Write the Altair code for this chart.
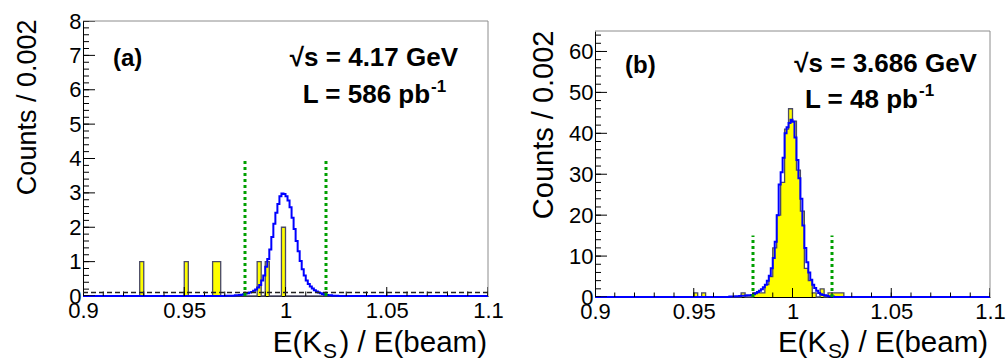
import altair as alt
import pandas as pd

FONT = "Liberation Sans"
YELLOW = "#ffff00"
OUTLINE = "#4a4a66"
BLUE = "#0000ff"
GREEN = "#00a000"
FRAME = "#8c8c8c"

X_DOMAIN = [0.9, 1.1]
BIN_W = 0.002
N_BINS = 100
CURVE_W = 0.001

# ---------------- panel (a): sqrt(s) = 4.17 GeV ----------------
a_data_lo = [0.928, 0.950, 0.964, 0.966, 0.986, 0.990, 0.998]
a_data_n = [1, 1, 1, 1, 1, 1, 2]
a_curve_lo = [0.970, 0.971, 0.972, 0.973, 0.974, 0.975, 0.976, 0.977, 0.978, 0.979,
              0.980, 0.981, 0.982, 0.983, 0.984, 0.985, 0.986, 0.987, 0.988, 0.989,
              0.990, 0.991, 0.992, 0.993, 0.994, 0.995, 0.996, 0.997, 0.998, 0.999,
              1.000, 1.001, 1.002, 1.003, 1.004, 1.005, 1.006, 1.007, 1.008, 1.009,
              1.010, 1.011, 1.012, 1.013, 1.014, 1.015, 1.016, 1.017, 1.018, 1.019,
              1.020, 1.021, 1.022, 1.023, 1.024, 1.025]
a_curve_v = [0.01, 0.01, 0.01, 0.01, 0.01, 0.02, 0.02, 0.03, 0.04, 0.05,
             0.07, 0.08, 0.10, 0.12, 0.15, 0.19, 0.25, 0.32, 0.45, 0.60,
             0.85, 1.08, 1.35, 1.72, 2.10, 2.42, 2.68, 2.90, 2.98, 2.97,
             2.90, 2.78, 2.58, 2.28, 1.95, 1.60, 1.30, 1.02, 0.78, 0.60,
             0.45, 0.35, 0.28, 0.22, 0.17, 0.13, 0.10, 0.08, 0.06, 0.04,
             0.03, 0.02, 0.02, 0.01, 0.01, 0.01]
a_cuts = [0.98, 1.02]
a_cut_top = 4
a_bkg_level = 0.1
a_y_max = 8
a_y_labels = [0, 1, 2, 3, 4, 5, 6, 7, 8]
a_y_minor = [round(0.2 * i, 2) for i in range(41)]

# ---------------- panel (b): sqrt(s) = 3.686 GeV ----------------
b_data_lo = [0.950, 0.954, 0.974, 0.980, 0.982, 0.984, 0.986, 0.988, 0.990, 0.992,
             0.994, 0.996, 0.998, 1.000, 1.002, 1.004, 1.006, 1.008, 1.010, 1.014,
             1.018, 1.020, 1.022, 1.024]
b_data_n = [1, 1, 1, 1, 1, 1, 3, 5, 12, 20,
            28, 41, 46, 43, 31, 21, 7, 4, 1, 2,
            1, 1, 1, 1]
b_curve_lo = [0.968, 0.969, 0.970, 0.971, 0.972, 0.973, 0.974, 0.975, 0.976, 0.977,
              0.978, 0.979, 0.980, 0.981, 0.982, 0.983, 0.984, 0.985, 0.986, 0.987,
              0.988, 0.989, 0.990, 0.991, 0.992, 0.993, 0.994, 0.995, 0.996, 0.997,
              0.998, 0.999, 1.000, 1.001, 1.002, 1.003, 1.004, 1.005, 1.006, 1.007,
              1.008, 1.009, 1.010, 1.011, 1.012, 1.013, 1.014, 1.015, 1.016, 1.017,
              1.018, 1.019, 1.020]
b_curve_v = [0.1, 0.1, 0.15, 0.2, 0.2, 0.25, 0.3, 0.3, 0.35, 0.4,
             0.45, 0.5, 0.7, 0.9, 1.2, 1.5, 1.9, 2.4, 3.0, 4.0,
             5.2, 7.0, 9.5, 13.5, 20.0, 27.5, 30.5, 34.0, 40.0, 41.5,
             42.5, 43.3, 42.8, 39.0, 33.5, 29.0, 24.0, 17.5, 12.0, 8.5,
             6.0, 4.2, 3.0, 2.2, 1.5, 1.0, 0.7, 0.5, 0.4, 0.3,
             0.2, 0.1, 0.1]
b_cuts = [0.98, 1.02]
b_cut_top = 15
b_y_max = 65
b_y_labels = [0, 10, 20, 30, 40, 50, 60]
b_y_minor = [2 * i for i in range(33)]

x_labels = [0.9, 0.95, 1.0, 1.05, 1.1]
x_minor = [round(0.9 + 0.01 * i, 3) for i in range(21)]


def hist_table(lo_list, n_list):
    counts = [0] * N_BINS
    for lo, n in zip(lo_list, n_list):
        counts[int(round((lo - X_DOMAIN[0]) / BIN_W))] = n
    edges = [round(X_DOMAIN[0] + i * BIN_W, 4) for i in range(N_BINS)] + [X_DOMAIN[1]]
    return pd.DataFrame({"x": edges, "n": counts + [counts[-1]]})


def curve_table(lo, v):
    xs = [X_DOMAIN[0]] + lo + [round(lo[-1] + CURVE_W, 4), X_DOMAIN[1]]
    ys = [0] + v + [0, 0]
    return pd.DataFrame({"x": xs, "v": ys})


def label(text, x, y, size, bold=False, align="left"):
    return alt.Chart().mark_text(
        text=text, font=FONT, fontSize=size, fontWeight="bold" if bold else "normal",
        align=align, baseline="alphabetic", color="black"
    ).encode(x=alt.datum(x), y=alt.datum(y))


def panel(hist, curve, y_max, width, height, y_range, cuts, cut_top, y_labels, y_minor,
          ytitle_x, ytitle_y, ytitle_size, texts, bkg=None):
    xs = alt.Scale(domain=X_DOMAIN, nice=False, zero=False)
    ykw = dict(domain=[0, y_max], nice=False, zero=True)
    if y_range is not None:
        ykw["range"] = y_range
    ys = alt.Scale(**ykw)
    xax = alt.Axis(values=x_labels, labelExpr="format(datum.value, '~g')", title=None,
                   labelPadding=4, labelFlush=False, labelOverlap=False)
    yax = alt.Axis(values=y_labels, labelExpr="format(datum.value, 'd')", labelPadding=2,
                   labelOverlap=False, labelSeparation=0, tickCount=len(y_labels),
                   title="Counts / 0.002", titleX=ytitle_x, titleY=ytitle_y, titleAngle=270,
                   titleAlign="right", titleBaseline="alphabetic", titleFontSize=ytitle_size)

    def X(f):
        return alt.X(f, scale=xs, axis=xax)

    def Y(f):
        return alt.Y(f, scale=ys, axis=yax)

    area = alt.Chart(hist).mark_area(interpolate="step-after", color=YELLOW, opacity=1).encode(
        x=X("x:Q"), y=Y("n:Q"))
    outline = alt.Chart(hist).mark_line(interpolate="step-after", color=OUTLINE, strokeWidth=1.3).encode(
        x=X("x:Q"), y=Y("n:Q"))
    blue = alt.Chart(curve).mark_line(interpolate="step-after", color=BLUE, strokeWidth=2).encode(
        x=X("x:Q"), y=Y("v:Q"))
    cut_df = pd.DataFrame({"c": cuts})
    cutlines = alt.Chart(cut_df).mark_rule(color=GREEN, strokeWidth=3, strokeDash=[3, 3]).encode(
        x=X("c:Q"), y=alt.datum(0), y2=alt.datum(cut_top))
    top_line = alt.Chart().mark_rule(color=FRAME, strokeWidth=1).encode(
        x=alt.datum(X_DOMAIN[0]), x2=alt.datum(X_DOMAIN[1]), y=alt.datum(y_max))
    right_line = alt.Chart().mark_rule(color=FRAME, strokeWidth=1).encode(
        x=alt.datum(X_DOMAIN[1]), y=alt.datum(0), y2=alt.datum(y_max))

    ymaj = pd.DataFrame({"t": y_labels})
    ymin = pd.DataFrame({"t": y_minor})
    xmaj = pd.DataFrame({"t": x_labels})
    xmin = pd.DataFrame({"t": x_minor})
    yt_major = alt.Chart(ymaj).mark_tick(orient="horizontal", size=24, thickness=1, color="black",
                                         opacity=1, clip=True).encode(
        x=alt.datum(X_DOMAIN[0]), y=Y("t:Q"))
    yt_minor = alt.Chart(ymin).mark_tick(orient="horizontal", size=12, thickness=1, color="black",
                                         opacity=1, clip=True).encode(
        x=alt.datum(X_DOMAIN[0]), y=Y("t:Q"))
    xt_major = alt.Chart(xmaj).mark_tick(orient="vertical", size=18, thickness=1, color="black",
                                         opacity=1, clip=True).encode(
        x=X("t:Q"), y=alt.datum(0))
    xt_minor = alt.Chart(xmin).mark_tick(orient="vertical", size=9, thickness=1, color="black",
                                         opacity=1, clip=True).encode(
        x=X("t:Q"), y=alt.datum(0))

    layers = [area, outline, blue, top_line, right_line, yt_major, yt_minor, xt_major, xt_minor]
    if bkg is not None:
        layers.append(alt.Chart().mark_rule(color="#222222", strokeWidth=1.5, strokeDash=[5, 3]).encode(
            x=alt.datum(X_DOMAIN[0]), x2=alt.datum(X_DOMAIN[1]), y=alt.datum(bkg)))
    layers.append(cutlines)
    for t in texts:
        layers.append(label(*t))
    return alt.layer(*layers).properties(width=width, height=height)


a_texts = [
    ("(a)", 0.9148, 6.70, 24, True, "left"),
    ("√s = 4.17 GeV", 1.0852, 6.70, 26, True, "right"),
    ("L = 586 pb", 1.0714, 5.62, 26, True, "right"),
    ("-1", 1.0719, 5.94, 17, True, "left"),
    (") / E(beam)", 1.0995, -1.629, 29.5, False, "right"),
    ("E(K", 1.0180, -1.629, 29.5, False, "right"),
    ("S", 1.0185, -1.80, 21, False, "left"),
]
b_texts = [
    ("(b)", 0.9152, 54.7, 24, True, "left"),
    ("√s = 3.686 GeV", 1.0934, 55.05, 26, True, "right"),
    ("L = 48 pb", 1.0635, 46.1, 26, True, "right"),
    ("-1", 1.0641, 49.0, 17, True, "left"),
    (") / E(beam)", 1.0990, -13.44, 29.5, False, "right"),
    ("E(K", 1.0175, -13.44, 29.5, False, "right"),
    ("S", 1.0180, -14.9, 21, False, "left"),
]

pa = panel(hist_table(a_data_lo, a_data_n), curve_table(a_curve_lo, a_curve_v),
           a_y_max, 405, 275, None, a_cuts, a_cut_top, a_y_labels, a_y_minor,
           -48, -2, 27, a_texts, bkg=a_bkg_level)
pb = panel(hist_table(b_data_lo, b_data_n), curve_table(b_curve_lo, b_curve_v),
           b_y_max, 395, 276, [276, 10], b_cuts, b_cut_top, b_y_labels, b_y_minor,
           -43, 9, 29, b_texts)

chart = alt.hconcat(pa, pb, spacing=107, bounds="flush").properties(
    padding={"left": 13, "top": 10, "right": 0, "bottom": 0},
    background="white",
).configure_view(strokeWidth=0).configure_axis(
    labelFont=FONT, labelFontSize=22, labelColor="black",
    titleFont=FONT, titleFontWeight="normal", titleColor="black",
    domainColor="black", domainWidth=1, ticks=False, tickSize=0, grid=False,
    labelOverlap=False,
)

chart.save("out.html", embed_options={"renderer": "svg", "actions": False})
